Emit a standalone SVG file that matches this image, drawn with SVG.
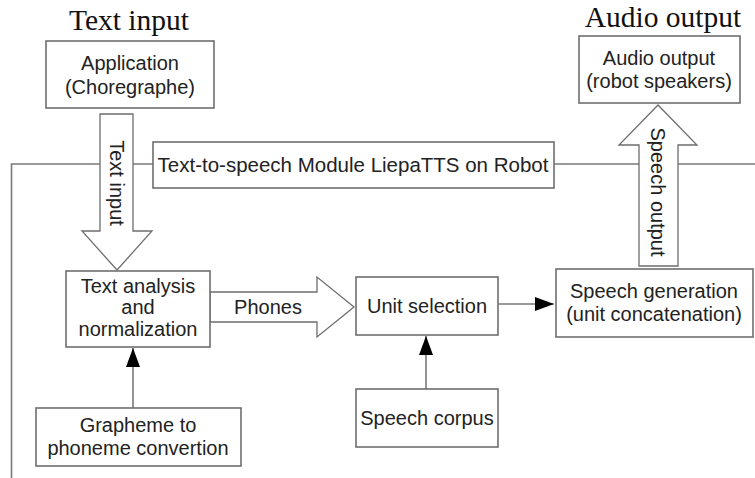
<svg xmlns="http://www.w3.org/2000/svg" width="755" height="478" viewBox="0 0 755 478">
<defs>
<style>
.box{fill:#fff;stroke:#6e6e6e;stroke-width:1.6}
.ln{fill:none;stroke:#7a7a7a;stroke-width:1.6}
.big{fill:#fff;stroke:#6e6e6e;stroke-width:1.3}
.t{font-family:"Liberation Sans",Arial,sans-serif;font-size:20px;fill:#222;text-anchor:middle}
.title{font-family:"Liberation Serif","Times New Roman",serif;font-size:29.5px;fill:#111;text-anchor:middle}
</style>
<marker id="ah" markerWidth="20" markerHeight="14" refX="19" refY="7" orient="auto" markerUnits="userSpaceOnUse">
<path d="M0,0 L19,7 L0,14 Z" fill="#000"/>
</marker>
</defs>
<rect width="755" height="478" fill="#fff"/>
<text class="title" x="129" y="30">Text input</text>
<text class="title" x="663" y="27">Audio output</text>
<g id="connectors">
<path class="ln" d="M11.5,478 V164 H100 M133,164 H153 M554,164 H639 M678,164 H755"/>
<path class="ln" d="M498,304 H554" marker-end="url(#ah)"/>
<path class="ln" d="M426,389 V336" marker-end="url(#ah)"/>
<path class="ln" d="M133,408 V348" marker-end="url(#ah)"/>
<g id="text-input-arrow">
<path class="big" d="M100,114 H133 V231 H152 L117,270 L82,231 H100 Z"/>
<text class="t" transform="translate(117,183) rotate(90)" y="7">Text input</text>
</g>
<g id="speech-output-arrow">
<path class="big" d="M639,266 V145 H619 L658,105 L697,145 H678 V266 Z"/>
<text class="t" transform="translate(658,192) rotate(90)" y="7">Speech output</text>
</g>
<g id="phones-arrow">
<path class="big" d="M210,292 H317 V277 L354,307 L317,337 V322 H210 Z"/>
<text class="t" x="268" y="314">Phones</text>
</g>
</g>
<g id="application">
<rect class="box" x="46" y="41" width="168" height="67"/>
<text class="t" x="130" y="70">Application</text>
<text class="t" x="130" y="94">(Choregraphe)</text>
</g>
<g id="tts-module">
<rect class="box" x="153" y="142" width="401" height="46"/>
<text class="t" x="353" y="172" style="font-size:20.5px">Text-to-speech Module LiepaTTS on Robot</text>
</g>
<g id="audio-output">
<rect class="box" x="579" y="36" width="161" height="67"/>
<text class="t" x="659" y="65">Audio output</text>
<text class="t" x="659" y="88">(robot speakers)</text>
</g>
<g id="text-analysis">
<rect class="box" x="66" y="271" width="144" height="76"/>
<text class="t" x="138" y="293">Text analysis</text>
<text class="t" x="138" y="314">and</text>
<text class="t" x="138" y="336">normalization</text>
</g>
<g id="unit-selection">
<rect class="box" x="356" y="277" width="142" height="58"/>
<text class="t" x="427" y="313">Unit selection</text>
</g>
<g id="speech-generation">
<rect class="box" x="556" y="269" width="197" height="68"/>
<text class="t" x="654" y="298">Speech generation</text>
<text class="t" x="654" y="321">(unit concatenation)</text>
</g>
<g id="speech-corpus">
<rect class="box" x="356" y="389" width="142" height="58"/>
<text class="t" x="427" y="425">Speech corpus</text>
</g>
<g id="grapheme">
<rect class="box" x="36" y="408" width="205" height="58"/>
<text class="t" x="138" y="432">Grapheme to</text>
<text class="t" x="138" y="455">phoneme convertion</text>
</g>
</svg>
